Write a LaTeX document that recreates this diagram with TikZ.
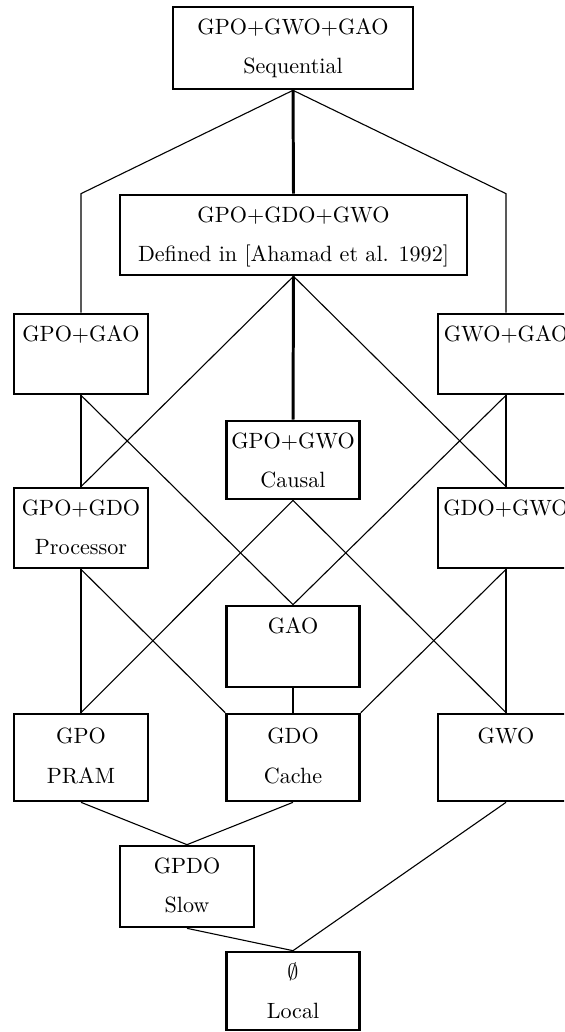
\documentclass[tikz,border=0pt]{standalone}
\usetikzlibrary{calc}
\begin{document}
\begin{tikzpicture}[x=0.4525pt,y=-0.4525pt,
  bx/.style={draw, line width=1.2pt, rectangle, inner sep=0pt},
  lbl/.style={anchor=base, inner sep=0pt},
  conn/.style={line width=0.5pt},
  heavy/.style={line width=1.35pt}]
\useasboundingbox (0,0) rectangle (564,1032);
\clip (0,0) rectangle (564,1032);
% boxes: center x, top, width, height
\node[bx, minimum width={240*0.4525pt}, minimum height={82*0.4525pt}] (seq) at (293,48) {};
\node[lbl] (seqa) at ($(seq.north)+(0,29)$) {GPO+GWO+GAO};
\node[lbl] (seqb) at ($(seq.north)+(0,68)$) {Sequential};

\node[bx, minimum width={347*0.4525pt}, minimum height={80*0.4525pt}] (gdw) at (293.5,235) {};
\node[lbl] (gdwa) at ($(gdw.north)+(0,29)$) {GPO+GDO+GWO};
\node[lbl] (gdwb) at ($(gdw.north)+(0,68)$) {Defined in [Ahamad et al. 1992]};

\node[bx, minimum width={134*0.4525pt}, minimum height={80*0.4525pt}] (pa) at (81,354) {};
\node[lbl] (paa) at ($(pa.north)+(0,29)$) {GPO+GAO};

\node[bx, minimum width={136*0.4525pt}, minimum height={80*0.4525pt}] (wa) at (506,354) {};
\node[lbl] (waa) at ($(wa.north)+(0,29)$) {GWO+GAO};

\node[bx, minimum width={133*0.4525pt}, minimum height={78*0.4525pt}] (pw) at (293,460) {};
\node[lbl] (pwa) at ($(pw.north)+(0,29)$) {GPO+GWO};
\node[lbl] (pwb) at ($(pw.north)+(0,68)$) {Causal};

\node[bx, minimum width={134*0.4525pt}, minimum height={80*0.4525pt}] (pd) at (81,528) {};
\node[lbl] (pda) at ($(pd.north)+(0,29)$) {GPO+GDO};
\node[lbl] (pdb) at ($(pd.north)+(0,68)$) {Processor};

\node[bx, minimum width={136*0.4525pt}, minimum height={80*0.4525pt}] (dw) at (506,528) {};
\node[lbl] (dwa) at ($(dw.north)+(0,29)$) {GDO+GWO};

\node[bx, minimum width={133*0.4525pt}, minimum height={81*0.4525pt}] (gao) at (293,646.5) {};
\node[lbl] (gaoa) at ($(gao.north)+(0,29)$) {GAO};

\node[bx, minimum width={134*0.4525pt}, minimum height={87*0.4525pt}] (gpo) at (81,757.5) {};
\node[lbl] (gpoa) at ($(gpo.north)+(0,31)$) {GPO};
\node[lbl] (gpob) at ($(gpo.north)+(0,71)$) {PRAM};

\node[bx, minimum width={133*0.4525pt}, minimum height={87*0.4525pt}] (gdo) at (293,757.5) {};
\node[lbl] (gdoa) at ($(gdo.north)+(0,31)$) {GDO};
\node[lbl] (gdob) at ($(gdo.north)+(0,71)$) {Cache};

\node[bx, minimum width={136*0.4525pt}, minimum height={87*0.4525pt}] (gwo) at (506,757.5) {};
\node[lbl] (gwoa) at ($(gwo.north)+(0,31)$) {GWO};

\node[bx, minimum width={134*0.4525pt}, minimum height={81*0.4525pt}] (gpdo) at (187,886.5) {};
\node[lbl] (gpdoa) at ($(gpdo.north)+(0,29)$) {GPDO};
\node[lbl] (gpdob) at ($(gpdo.north)+(0,68)$) {Slow};

\node[bx, minimum width={133*0.4525pt}, minimum height={78*0.4525pt}] (loc) at (293,991) {};
\node[lbl] (loca) at ($(loc.north)+(0,29)$) {$\emptyset$};
\node[lbl] (locb) at ($(loc.north)+(0,68)$) {Local};

% connectors
\draw[heavy] (seq.south) -- (gdw.north);
\draw[conn] (seq.south) -- (pa.north |- gdw.north) -- (pa.north);
\draw[conn] (seq.south) -- (wa.north |- gdw.north) -- (wa.north);
\draw[heavy] (gdw.south) -- (pw.north);
\draw[conn] (gdw.south) -- (pd.north);
\draw[conn] (gdw.south) -- (dw.north);
\draw[conn] (pa.south) -- (pd.north);
\draw[conn] (pa.south) -- (gao.north);
\draw[conn] (wa.south) -- (dw.north);
\draw[conn] (wa.south) -- (gao.north);
\draw[conn] (pw.south) -- (gpo.north);
\draw[conn] (pw.south) -- (gwo.north);
\draw[conn] (pd.south) -- (gpo.north);
\draw[conn] (pd.south) -- (gdo.north west);
\draw[conn] (dw.south) -- (gwo.north);
\draw[conn] (dw.south) -- (gdo.north east);
\draw[heavy] (gao.south) -- (gdo.north);
\draw[conn] (gpo.south) -- (gpdo.north);
\draw[conn] (gdo.south) -- (gpdo.north);
\draw[conn] (gpdo.south) -- (loc.north);
\draw[conn] (gwo.south) -- (loc.north);
\end{tikzpicture}
\end{document}
